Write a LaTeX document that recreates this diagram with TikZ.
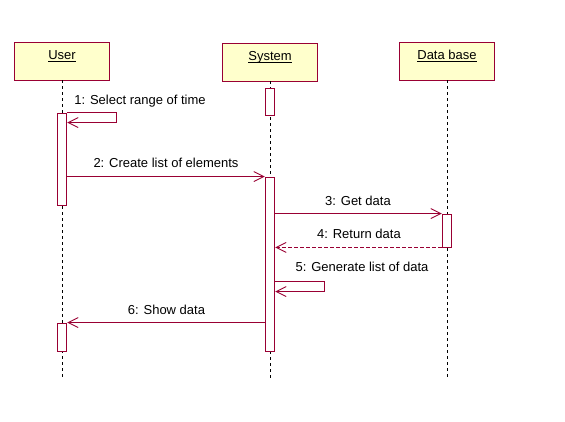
\documentclass[tikz,border=0pt]{standalone}
\usepackage{amsmath}
\usepackage{fontspec}
\setmainfont{Liberation Sans}
\usepackage{tikz}
\usetikzlibrary{arrows.meta,calc}
\definecolor{umlred}{RGB}{153,0,51}
\definecolor{umlfill}{RGB}{255,255,204}

\begin{document}
\begin{tikzpicture}[x=1pt, y=-1pt,
  obj/.style={draw=umlred, fill=umlfill, line width=0.9pt, minimum width=95pt, inner sep=3pt, text height=15pt, text depth=17pt, font=\fontsize{13}{15}\selectfont},
  act/.style={draw=umlred, fill=white, line width=0.9pt, minimum width=9.5pt, inner sep=0pt},
  life/.style={dash pattern=on 3pt off 3pt, line width=0.8pt},
  arr/.style={umlred, line width=0.9pt, -{Straight Barb[length=10pt,width=10pt]}},
  retarr/.style={arr, dash pattern=on 4pt off 2pt},
  lbl/.style={font=\fontsize{13}{15}\selectfont},
]
\useasboundingbox (0,0) rectangle (565,422);

% ===== objects and lifelines =====
\node[obj] (user) at (62, 61) {\underline{\smash[b]{User}}};
\node[obj] (sys)  at (270, 62) {\underline{\smash[b]{System}}};
\node[obj] (db)   at (447, 61) {\underline{\smash[b]{Data base}}};

\coordinate (userend) at (62, 378);
\coordinate (sysend)  at (270, 378);
\coordinate (dbend)   at (447, 378);

\draw[life] (user.south) -- (userend);
\draw[life] (sys.south) -- (sysend);
\draw[life] (db.south) -- (dbend);

% ===== activations =====
\node[act, minimum height=92pt]  (ua1) at (62, 159) {};
\node[act, minimum height=28pt]  (ua2) at (62, 337) {};
\node[act, minimum height=27pt]  (sa1) at (270, 101.5) {};
\node[act, minimum height=174pt] (sa2) at (270, 264) {};
\node[act, minimum height=33pt]  (da)  at (447, 230.5) {};

% ===== messages =====
\draw[arr] (ua1.north east) -- ++(49,0) -- ++(0,10) -- ($(ua1.north east)+(0,10)$);
\draw[arr] (sa2.north west -| ua1.east) -- (sa2.north west);
\draw[arr] (da.north west -| sa2.east) -- (da.north west);
\draw[retarr] (da.south west) -- (da.south west -| sa2.east);
\coordinate (selfgen) at ($(sa2.north east)+(0,105)$);
\draw[arr] (selfgen) -- ++(49,0) -- ++(0,10) -- ($(selfgen)+(0,10)$);
\draw[arr] (ua2.north east -| sa2.west) -- (ua2.north east);

% labels
\node[lbl] (l1) at (140, 101.5) {1: Select range of time};
\node[lbl] (l2) at (166, 163) {2: Create list of elements};
\node[lbl] (l3) at (358, 200.5) {3: Get data};
\node[lbl] (l4) at (359, 234) {4: Return data};
\node[lbl] (l5) at (362, 267) {5: Generate list of data};
\node[lbl] (l6) at (166.5, 309.5) {6: Show data};

\end{tikzpicture}
\end{document}
